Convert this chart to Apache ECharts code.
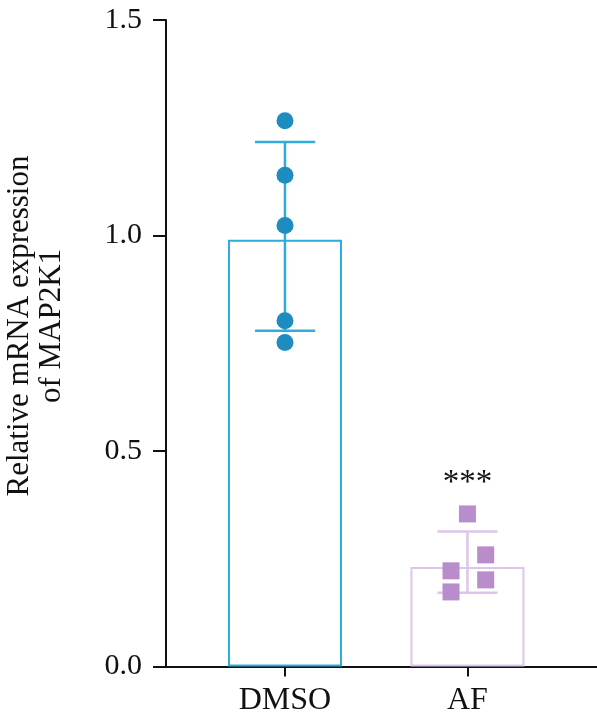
<!DOCTYPE html>
<html lang="en">
<head>
    <meta charset="UTF-8">
    <title>MAP2K1</title>
    <script src="https://cdn.jsdelivr.net/npm/echarts@6.0.0/dist/echarts.min.js"></script>
    <style>
        html, body { margin: 0; padding: 0; background: #fff; }
    </style>
</head>
<body>
    <div id="main" style="width: 597px;height:726px;"></div>
    <script type="text/javascript">
        // data
        var categories = ['DMSO', 'AF'];
        var catPos = [1, 2];
        var barMeans = [0.99, 0.231];
        var errLow = [0.779, 0.171];
        var errHigh = [1.217, 0.313];
        var sigMarks = ['', '***'];
        var dmsoValues = [1.266, 1.140, 1.023, 0.802, 0.752];
        var dmsoJitter = [0, 0, 0, 0, 0];
        var afValues = [0.354, 0.259, 0.222, 0.201, 0.173];
        var afJitter = [0, 0.1, -0.09, 0.1, -0.09];
        var yTicks = [0, 0.5, 1.0, 1.5];

        var barColors = ['#2eaddd', '#ddc5ec'];
        var pointColors = ['#1d8dbf', '#b98ccb'];
        var serif = '"Liberation Serif", "DejaVu Serif", serif';

        var myChart = echarts.init(document.getElementById('main'));

        var barData = barMeans.map(function (v, i) {
            return {
                value: [catPos[i], v],
                itemStyle: { color: 'rgba(0,0,0,0)', borderColor: barColors[i], borderWidth: 2 }
            };
        });
        var errData = categories.map(function (c, i) {
            return [catPos[i], errLow[i], errHigh[i]];
        });
        var dmsoData = dmsoValues.map(function (v, i) { return [catPos[0] + dmsoJitter[i], v]; });
        var afData = afValues.map(function (v, i) { return [catPos[1] + afJitter[i], v]; });

        var option = {
            animation: false,
            grid: { left: 166, right: 0, top: 20, bottom: 59.5 },
            xAxis: {
                type: 'value',
                min: 0.348,
                max: 2.71,
                splitLine: { show: false },
                axisLine: { lineStyle: { color: '#111', width: 2 } },
                axisTick: { show: true, length: 10, lineStyle: { color: '#111', width: 2 }, customValues: catPos },
                axisLabel: {
                    customValues: catPos,
                    margin: 18,
                    fontFamily: serif,
                    fontSize: 32,
                    color: '#111',
                    formatter: function (v) {
                        var i = catPos.indexOf(v);
                        return i >= 0 ? categories[i] : '';
                    }
                }
            },
            yAxis: {
                type: 'value',
                min: 0,
                max: 1.5,
                interval: 0.5,
                splitLine: { show: false },
                axisLine: { show: true, lineStyle: { color: '#111', width: 2 } },
                axisTick: { show: true, length: 13, lineStyle: { color: '#111', width: 2 } },
                axisLabel: {
                    margin: 24,
                    fontFamily: serif,
                    fontSize: 30,
                    color: '#111',
                    formatter: function (v) { return v.toFixed(1); }
                }
            },
            graphic: [{
                type: 'text',
                x: 36,
                y: 326,
                rotation: Math.PI / 2,
                style: {
                    text: 'Relative mRNA expression\nof MAP2K1',
                    font: '31px ' + serif,
                    fill: '#111',
                    align: 'center',
                    verticalAlign: 'middle',
                    lineHeight: 32
                }
            }],
            series: [
                {
                    type: 'bar',
                    barWidth: 114,
                    data: barData,
                    z: 1
                },
                {
                    type: 'custom',
                    z: 2,
                    data: errData,
                    renderItem: function (params, api) {
                        var i = params.dataIndex;
                        var x = api.value(0);
                        var lo = api.coord([x, api.value(1)]);
                        var hi = api.coord([x, api.value(2)]);
                        var hw = 30;
                        var st = { stroke: barColors[i], lineWidth: 2.5 };
                        var kids = [
                            { type: 'line', shape: { x1: lo[0], y1: lo[1], x2: hi[0], y2: hi[1] }, style: st },
                            { type: 'line', shape: { x1: hi[0] - hw, y1: hi[1], x2: hi[0] + hw, y2: hi[1] }, style: st },
                            { type: 'line', shape: { x1: lo[0] - hw, y1: lo[1], x2: lo[0] + hw, y2: lo[1] }, style: st }
                        ];
                        if (sigMarks[i]) {
                            kids.push({
                                type: 'text',
                                x: hi[0],
                                y: hi[1] - 48,
                                style: {
                                    text: sigMarks[i],
                                    font: '33px ' + serif,
                                    fill: '#111',
                                    align: 'center',
                                    verticalAlign: 'middle'
                                }
                            });
                        }
                        return { type: 'group', children: kids };
                    }
                },
                {
                    type: 'scatter',
                    symbol: 'circle',
                    symbolSize: 17,
                    itemStyle: { color: pointColors[0], opacity: 1 },
                    data: dmsoData,
                    z: 3
                },
                {
                    type: 'scatter',
                    symbol: 'rect',
                    symbolSize: 17,
                    itemStyle: { color: pointColors[1], opacity: 1 },
                    data: afData,
                    z: 3
                }
            ]
        };

        myChart.setOption(option);
    </script>
</body>
</html>
